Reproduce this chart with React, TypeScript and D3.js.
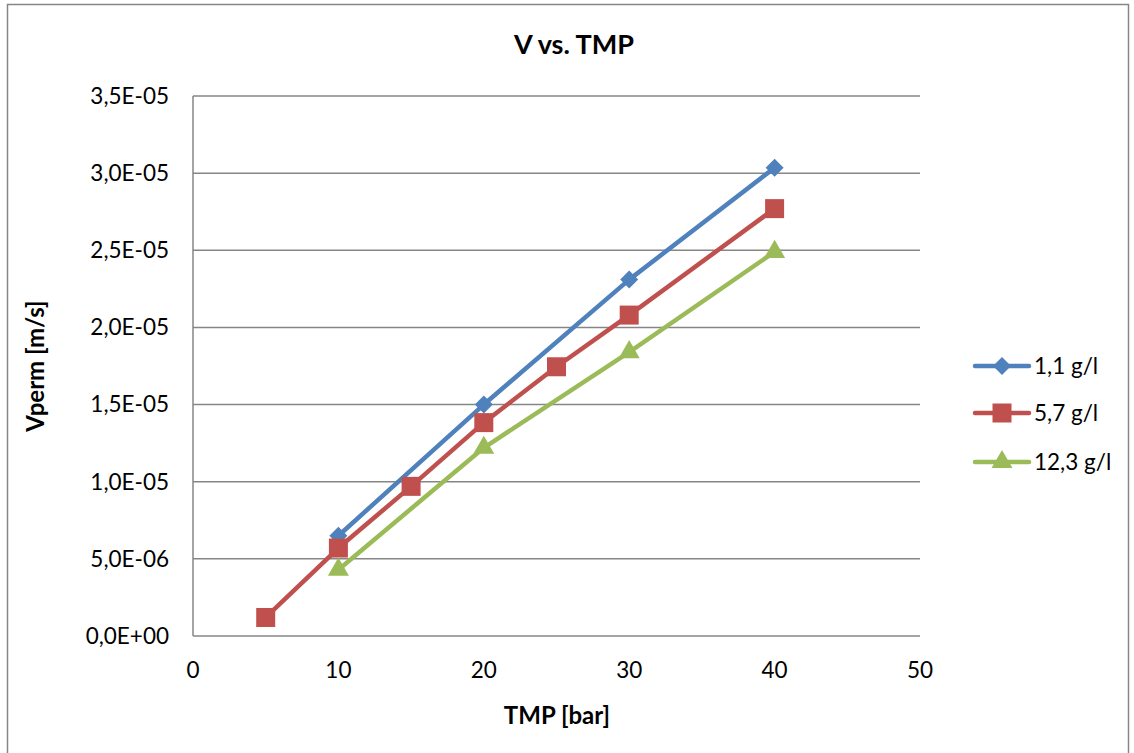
import React from "react";
import * as d3 from "d3";

const xTicks = [0, 10, 20, 30, 40, 50];
const yTicks = [0, 0.5e-5, 1.0e-5, 1.5e-5, 2.0e-5, 2.5e-5, 3.0e-5, 3.5e-5];
const yTickLabels = ["0,0E+00", "5,0E-06", "1,0E-05", "1,5E-05", "2,0E-05", "2,5E-05", "3,0E-05", "3,5E-05"];

const seriesNames = ["1,1 g/l", "5,7 g/l", "12,3 g/l"];
const seriesColors = ["#4F81BD", "#C0504D", "#9BBB59"];
const seriesMarkers = ["diamond", "square", "triangle"];

const tmp11 = [10, 20, 30, 40];
const v11 = [6.5e-6, 1.5e-5, 2.31e-5, 3.035e-5];
const tmp57 = [5, 10, 15, 20, 25, 30, 40];
const v57 = [1.2e-6, 5.7e-6, 9.7e-6, 1.383e-5, 1.745e-5, 2.08e-5, 2.77e-5];
const tmp123 = [10, 20, 30, 40];
const v123 = [4.3e-6, 1.22e-5, 1.84e-5, 2.49e-5];

const W = 1134;
const H = 753;
const plot = { left: 193, right: 920, top: 96, bottom: 636 };
const FONT = "Lato, 'Open Sans', sans-serif";

function Marker({ type, x, y, color }: { type: string; x: number; y: number; color: string }) {
  if (type === "diamond") {
    const s = 9;
    return <path d={`M${x},${y - s}L${x + s},${y}L${x},${y + s}L${x - s},${y}Z`} fill={color} />;
  }
  if (type === "square") {
    const s = 9.5;
    return <rect x={x - s} y={y - s} width={2 * s} height={2 * s} fill={color} />;
  }
  const sym = d3.symbol().type(d3.symbolTriangle).size(190)();
  return <path d={sym || ""} transform={`translate(${x},${y})`} fill={color} />;
}

export default function App() {
  const x = d3.scaleLinear().domain([0, 50]).range([plot.left, plot.right]);
  const y = d3.scaleLinear().domain([0, 3.5e-5]).range([plot.bottom, plot.top]);
  const series = [
    { xs: tmp11, ys: v11 },
    { xs: tmp57, ys: v57 },
    { xs: tmp123, ys: v123 },
  ];
  const line = d3
    .line<[number, number]>()
    .x((d) => x(d[0]))
    .y((d) => y(d[1]));

  const legendY = [366, 413, 462];

  return (
    <svg
      width={W}
      height={H}
      style={{ position: "absolute", left: 0, top: 0, background: "#fff" }}
      fontFamily={FONT}
    >
      <rect x={7.5} y={4.5} width={1121} height={760} fill="#fff" stroke="#868686" strokeWidth={1.5} />
      {yTicks.map((t, i) =>
        i === 0 ? null : (
          <line key={"g" + i} x1={plot.left} x2={plot.right} y1={y(t)} y2={y(t)} stroke="#868686" strokeWidth={1.5} />
        )
      )}
      <line x1={plot.left} x2={plot.left} y1={plot.top} y2={plot.bottom} stroke="#868686" strokeWidth={1.5} />
      <line x1={plot.left} x2={plot.right} y1={plot.bottom} y2={plot.bottom} stroke="#868686" strokeWidth={1.5} />
      {yTicks.map((t, i) => (
        <text key={"yt" + i} x={169} y={y(t)} dy="0.35em" textAnchor="end" fontSize={22.5} fill="#000">
          {yTickLabels[i]}
        </text>
      ))}
      {xTicks.map((t) => (
        <text key={"xt" + t} x={x(t)} y={670} dy="0.35em" textAnchor="middle" fontSize={22.5} fill="#000">
          {t}
        </text>
      ))}
      <text x={574} y={45} dy="0.35em" textAnchor="middle" fontSize={27} fontWeight="bold">
        V vs. TMP
      </text>
      <text x={557} y={716} dy="0.35em" textAnchor="middle" fontSize={24} fontWeight="bold">
        TMP [bar]
      </text>
      <text
        transform={`translate(36,${(plot.top + plot.bottom) / 2}) rotate(-90)`}
        dy="0.35em"
        textAnchor="middle"
        fontSize={24}
        fontWeight="bold"
      >
        Vperm [m/s]
      </text>
      {series.map((s, i) => {
        const pts: [number, number][] = s.xs.map((xv, j) => [xv, s.ys[j]]);
        return (
          <g key={"s" + i}>
            <path d={line(pts) || ""} fill="none" stroke={seriesColors[i]} strokeWidth={4.5} strokeLinejoin="round" />
            {pts.map((p, j) => (
              <Marker key={j} type={seriesMarkers[i]} x={x(p[0])} y={y(p[1])} color={seriesColors[i]} />
            ))}
          </g>
        );
      })}
      {seriesNames.map((n, i) => (
        <g key={"l" + i}>
          <line x1={975} x2={1029} y1={legendY[i]} y2={legendY[i]} stroke={seriesColors[i]} strokeWidth={4.5} strokeLinecap="round" />
          <Marker type={seriesMarkers[i]} x={1002} y={legendY[i]} color={seriesColors[i]} />
          <text x={1034} y={legendY[i]} dy="0.35em" fontSize={22.5} fill="#000">
            {n}
          </text>
        </g>
      ))}
    </svg>
  );
}
